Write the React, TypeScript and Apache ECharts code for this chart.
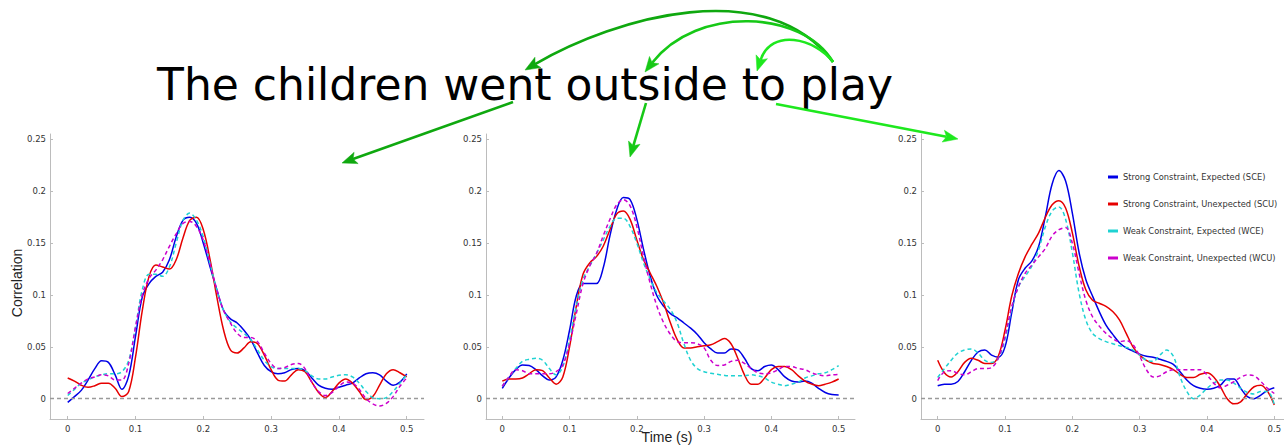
import React, { useEffect, useRef } from "react";
import * as echarts from "echarts";

const TIME = [0, 0.01, 0.02, 0.03, 0.04, 0.05, 0.06, 0.07, 0.08, 0.09, 0.1, 0.11, 0.12, 0.13, 0.14, 0.15, 0.16, 0.17, 0.18, 0.19, 0.2, 0.21, 0.22, 0.23, 0.24, 0.25, 0.26, 0.27, 0.28, 0.29, 0.3, 0.31, 0.32, 0.33, 0.34, 0.35, 0.36, 0.37, 0.38, 0.39, 0.4, 0.41, 0.42, 0.43, 0.44, 0.45, 0.46, 0.47, 0.48, 0.49, 0.5];

const SERIES_NAMES = [
  "Strong Constraint, Expected (SCE)",
  "Strong Constraint, Unexpected (SCU)",
  "Weak Constraint, Expected (WCE)",
  "Weak Constraint, Unexpected (WCU)",
];
const SERIES_COLORS = ["#0000e6", "#e60000", "#1fd2d2", "#cc00cc"];
const SERIES_DASHED = [false, false, true, true];

// Panel 1 ("went")
const P1_SCE = [-0.0035, 0.002, 0.008, 0.018, 0.029, 0.0365, 0.035, 0.023, 0.009, 0.022, 0.06, 0.098, 0.111, 0.118, 0.122, 0.134, 0.156, 0.172, 0.175, 0.169, 0.15, 0.127, 0.105, 0.085, 0.077, 0.073, 0.066, 0.057, 0.044, 0.032, 0.026, 0.024, 0.025, 0.028, 0.029, 0.027, 0.02, 0.013, 0.01, 0.009, 0.011, 0.013, 0.015, 0.02, 0.024, 0.025, 0.023, 0.017, 0.013, 0.016, 0.024];
const P1_SCU = [0.02, 0.017, 0.013, 0.011, 0.0125, 0.015, 0.015, 0.01, 0.002, 0.007, 0.04, 0.085, 0.118, 0.129, 0.127, 0.125, 0.134, 0.155, 0.172, 0.175, 0.163, 0.134, 0.098, 0.066, 0.047, 0.044, 0.049, 0.055, 0.053, 0.042, 0.028, 0.018, 0.017, 0.023, 0.028, 0.026, 0.016, 0.006, 0.001, 0.007, 0.015, 0.019, 0.015, 0.007, -0.001, 0.002, 0.013, 0.024, 0.028, 0.025, 0.021];
const P1_WCE = [0.003, 0.009, 0.015, 0.018, 0.021, 0.023, 0.024, 0.024, 0.026, 0.037, 0.069, 0.105, 0.12, 0.12, 0.118, 0.127, 0.15, 0.172, 0.179, 0.172, 0.156, 0.13, 0.105, 0.085, 0.074, 0.068, 0.063, 0.057, 0.047, 0.037, 0.031, 0.029, 0.029, 0.029, 0.029, 0.027, 0.022, 0.019, 0.019, 0.021, 0.0225, 0.023, 0.021, 0.015, 0.007, 0.001, 0, 0.001, 0.007, 0.015, 0.023];
const P1_WCU = [0.005, 0.01, 0.015, 0.019, 0.021, 0.023, 0.022, 0.018, 0.018, 0.034, 0.069, 0.1, 0.116, 0.124, 0.134, 0.147, 0.159, 0.169, 0.171, 0.166, 0.153, 0.13, 0.105, 0.085, 0.073, 0.063, 0.059, 0.059, 0.055, 0.044, 0.034, 0.029, 0.03, 0.033, 0.034, 0.029, 0.016, 0.007, 0.003, 0.006, 0.012, 0.016, 0.015, 0.009, 0, -0.005, -0.007, -0.0045, 0.002, 0.012, 0.02];

// Panel 2 ("outside")
const P2_SCE = [0.01, 0.02, 0.028, 0.0325, 0.032, 0.028, 0.022, 0.018, 0.021, 0.037, 0.066, 0.099, 0.111, 0.111, 0.111, 0.126, 0.157, 0.182, 0.194, 0.192, 0.173, 0.144, 0.118, 0.099, 0.089, 0.082, 0.078, 0.073, 0.068, 0.062, 0.054, 0.048, 0.044, 0.044, 0.048, 0.047, 0.039, 0.029, 0.027, 0.031, 0.0325, 0.028, 0.021, 0.017, 0.016, 0.017, 0.015, 0.01, 0.006, 0.004, 0.0035];
const P2_SCU = [0.017, 0.019, 0.019, 0.02, 0.024, 0.028, 0.027, 0.02, 0.014, 0.021, 0.05, 0.089, 0.12, 0.131, 0.137, 0.147, 0.163, 0.178, 0.181, 0.173, 0.153, 0.134, 0.121, 0.108, 0.092, 0.073, 0.057, 0.049, 0.049, 0.05, 0.051, 0.052, 0.055, 0.058, 0.053, 0.039, 0.023, 0.014, 0.014, 0.02, 0.028, 0.031, 0.031, 0.028, 0.022, 0.017, 0.014, 0.0125, 0.014, 0.016, 0.019];
const P2_WCE = [0.012, 0.021, 0.029, 0.036, 0.038, 0.039, 0.037, 0.029, 0.023, 0.031, 0.057, 0.089, 0.115, 0.128, 0.14, 0.153, 0.166, 0.174, 0.174, 0.166, 0.15, 0.131, 0.115, 0.102, 0.094, 0.086, 0.073, 0.053, 0.037, 0.029, 0.026, 0.0245, 0.0235, 0.0225, 0.022, 0.022, 0.022, 0.023, 0.022, 0.02, 0.016, 0.014, 0.0125, 0.014, 0.016, 0.02, 0.022, 0.024, 0.025, 0.028, 0.032];
const P2_WCU = [0.012, 0.021, 0.028, 0.027, 0.024, 0.024, 0.024, 0.024, 0.026, 0.0325, 0.053, 0.082, 0.111, 0.128, 0.14, 0.157, 0.173, 0.187, 0.192, 0.186, 0.166, 0.137, 0.111, 0.089, 0.073, 0.062, 0.055, 0.054, 0.054, 0.053, 0.049, 0.037, 0.032, 0.0325, 0.036, 0.037, 0.034, 0.029, 0.025, 0.024, 0.025, 0.028, 0.031, 0.031, 0.029, 0.028, 0.025, 0.023, 0.022, 0.023, 0.0235];

// Panel 3 ("play")
const P3_SCE = [0.0125, 0.014, 0.014, 0.0165, 0.026, 0.037, 0.045, 0.047, 0.042, 0.04, 0.05, 0.083, 0.115, 0.126, 0.133, 0.147, 0.176, 0.207, 0.22, 0.21, 0.179, 0.141, 0.115, 0.099, 0.084, 0.071, 0.062, 0.054, 0.049, 0.046, 0.043, 0.041, 0.04, 0.038, 0.036, 0.033, 0.026, 0.018, 0.0125, 0.01, 0.009, 0.01, 0.013, 0.019, 0.019, 0.01, 0.002, 0, 0.0035, 0.008, 0.0105];
const P3_SCU = [0.037, 0.025, 0.021, 0.026, 0.035, 0.039, 0.037, 0.034, 0.034, 0.041, 0.066, 0.099, 0.121, 0.137, 0.149, 0.16, 0.175, 0.187, 0.191, 0.184, 0.16, 0.128, 0.105, 0.095, 0.092, 0.089, 0.084, 0.076, 0.063, 0.05, 0.042, 0.037, 0.034, 0.033, 0.031, 0.028, 0.0235, 0.0205, 0.0205, 0.0235, 0.025, 0.021, 0.0115, 0, -0.005, -0.003, 0.005, 0.0115, 0.013, 0.007, -0.006];
const P3_WCE = [0.0205, 0.029, 0.037, 0.044, 0.047, 0.048, 0.044, 0.037, 0.035, 0.039, 0.057, 0.087, 0.108, 0.118, 0.128, 0.144, 0.166, 0.181, 0.185, 0.173, 0.141, 0.102, 0.076, 0.063, 0.058, 0.055, 0.053, 0.051, 0.0495, 0.047, 0.042, 0.037, 0.036, 0.042, 0.047, 0.041, 0.021, 0.007, 0, 0.0035, 0.01, 0.015, 0.018, 0.018, 0.015, 0.01, 0.006, 0.0045, 0.007, 0.007, -0.006];
const P3_WCU = [0.0175, 0.026, 0.027, 0.0245, 0.023, 0.026, 0.029, 0.029, 0.03, 0.039, 0.06, 0.089, 0.108, 0.121, 0.129, 0.137, 0.145, 0.157, 0.163, 0.165, 0.15, 0.121, 0.095, 0.079, 0.07, 0.063, 0.058, 0.055, 0.056, 0.052, 0.041, 0.028, 0.021, 0.022, 0.026, 0.028, 0.028, 0.028, 0.028, 0.028, 0.023, 0.015, 0.0105, 0.013, 0.0165, 0.0205, 0.023, 0.022, 0.0165, 0.01, 0.005];

const PANELS = [
  [P1_SCE, P1_SCU, P1_WCE, P1_WCU],
  [P2_SCE, P2_SCU, P2_WCE, P2_WCU],
  [P3_SCE, P3_SCU, P3_WCE, P3_WCU],
];

const X_TICKS = [0, 0.1, 0.2, 0.3, 0.4, 0.5];
const Y_TICKS = [0, 0.05, 0.1, 0.15, 0.2, 0.25];

const TITLE = "The children went outside to play";
const Y_NAME = "Correlation";
const X_NAME = "Time (s)";

// layout
const GRIDS = [
  { left: 50, top: 134, width: 374, height: 285, xMin: -0.0261, xMax: 0.5255 },
  { left: 486, top: 134, width: 369, height: 285, xMin: -0.0242, xMax: 0.5243 },
  { left: 921, top: 134, width: 363, height: 285, xMin: -0.0248, xMax: 0.5144 },
];
const Y_MIN = -0.0196;
const Y_MAX = 0.2553;

const GREEN_DARK = "#0fa80f";
const GREEN_MID = "#16c816";
const GREEN_LIGHT = "#1ee81e";

function arrowHead(tip: number[], dir: number[], color: string) {
  const len = Math.hypot(dir[0], dir[1]);
  const d = [dir[0] / len, dir[1] / len];
  const n = [-d[1], d[0]];
  const L = 15;
  const W = 6;
  const base = [tip[0] - L * d[0], tip[1] - L * d[1]];
  const notch = [tip[0] - 0.78 * L * d[0], tip[1] - 0.78 * L * d[1]];
  return {
    type: "polygon",
    shape: {
      points: [
        tip,
        [base[0] + W * n[0], base[1] + W * n[1]],
        notch,
        [base[0] - W * n[0], base[1] - W * n[1]],
      ],
    },
    style: { fill: color, stroke: color, lineWidth: 0.5 },
    z: 100,
  };
}

function notchPoint(tip: number[], dir: number[]) {
  const len = Math.hypot(dir[0], dir[1]);
  return [tip[0] - 0.78 * 15 * dir[0] / len, tip[1] - 0.78 * 15 * dir[1] / len];
}

function curveArrow(start: number[], c1: number[], c2: number[], tip: number[], dir: number[], color: string) {
  const end = notchPoint(tip, dir);
  return [
    {
      type: "bezierCurve",
      shape: { x1: start[0], y1: start[1], cpx1: c1[0], cpy1: c1[1], cpx2: c2[0], cpy2: c2[1], x2: end[0], y2: end[1] },
      style: { stroke: color, lineWidth: 2.6, fill: null },
      z: 100,
    },
    arrowHead(tip, dir, color),
  ];
}

function straightArrow(start: number[], tip: number[], color: string) {
  const dir = [tip[0] - start[0], tip[1] - start[1]];
  const end = notchPoint(tip, dir);
  return [
    {
      type: "line",
      shape: { x1: start[0], y1: start[1], x2: end[0], y2: end[1] },
      style: { stroke: color, lineWidth: 2.6 },
      z: 100,
    },
    arrowHead(tip, dir, color),
  ];
}

export default function App() {
  const ref = useRef<HTMLDivElement>(null);

  useEffect(() => {
    document.body.style.margin = "0";
    if (!ref.current) return;
    const chart = echarts.init(ref.current, null, { renderer: "svg" });

    const fmt = (v: number) => String(Math.round(v * 1000) / 1000);
    const axisColor = "#bcbcbc";
    const labelStyle = { color: "#333", fontSize: 8.5, fontFamily: "DejaVu Sans" };

    const grids = GRIDS.map((g) => ({
      left: g.left,
      top: g.top,
      width: g.width,
      height: g.height,
      containLabel: false,
      outerBoundsMode: "none",
    }));
    const xAxes = GRIDS.map((g, i) => ({
      type: "value",
      gridIndex: i,
      min: g.xMin,
      max: g.xMax,
      axisLine: { show: true, onZero: false, lineStyle: { color: axisColor, width: 1 } },
      axisTick: { show: true, inside: true, length: 3, customValues: X_TICKS, lineStyle: { color: axisColor } },
      axisLabel: { ...labelStyle, margin: 5, customValues: X_TICKS, formatter: fmt },
      splitLine: { show: false },
    }));
    const yAxes = GRIDS.map((g, i) => ({
      type: "value",
      gridIndex: i,
      min: Y_MIN,
      max: Y_MAX,
      axisLine: { show: true, onZero: false, lineStyle: { color: axisColor, width: 1 } },
      axisTick: { show: true, inside: true, length: 3, customValues: Y_TICKS, lineStyle: { color: axisColor } },
      axisLabel: { ...labelStyle, margin: 4, customValues: Y_TICKS, formatter: fmt },
      splitLine: { show: false },
    }));

    const series: any[] = [];
    PANELS.forEach((panel, p) => {
      panel.forEach((vals, s) => {
        const item: any = {
          name: SERIES_NAMES[s],
          type: "line",
          xAxisIndex: p,
          yAxisIndex: p,
          data: TIME.map((t, i) => [t, vals[i]]),
          smooth: 0.35,
          symbol: "none",
          showSymbol: false,
          color: SERIES_COLORS[s],
          itemStyle: { color: SERIES_COLORS[s] },
          lineStyle: { color: SERIES_COLORS[s], width: 1.5, type: SERIES_DASHED[s] ? [4, 3] : "solid" },
          z: 3 + s,
        };
        if (s === 0) {
          item.markLine = {
            silent: true,
            symbol: ["none", "none"],
            label: { show: false },
            lineStyle: { color: "#9a9a9a", type: [4, 3], width: 1.3 },
            data: [{ yAxis: 0 }],
          };
        }
        series.push(item);
      });
    });

    const graphics: any[] = [
      {
        type: "text",
        x: 157,
        y: 84,
        style: { text: TITLE, fontSize: 44, fontFamily: "DejaVu Sans", fill: "#000", align: "left", verticalAlign: "middle" },
      },
      {
        type: "text",
        x: 17,
        y: 283,
        rotation: Math.PI / 2,
        style: { text: Y_NAME, fontSize: 14, fontFamily: "Liberation Sans", fill: "#222", align: "center", verticalAlign: "middle" },
      },
      {
        type: "text",
        x: 667,
        y: 437,
        style: { text: X_NAME, fontSize: 14, fontFamily: "Liberation Sans", fill: "#222", align: "center", verticalAlign: "middle" },
      },
      ...curveArrow([833, 62], [767, -26], [616, 17], [525, 70], [-60, 35], GREEN_DARK),
      ...curveArrow([833, 62], [803, 10], [697, 5], [645, 72], [-35, 45], GREEN_MID),
      ...curveArrow([833, 62], [815, 38], [771, 28], [757, 71], [-15, 45], GREEN_LIGHT),
      ...straightArrow([513, 102], [342, 163], GREEN_DARK),
      ...straightArrow([646, 103], [630, 157], GREEN_MID),
      ...straightArrow([776, 104], [958, 139], GREEN_LIGHT),
    ];

    chart.setOption({
      animation: false,
      backgroundColor: "#fff",
      grid: grids,
      xAxis: xAxes,
      yAxis: yAxes,
      legend: {
        data: SERIES_NAMES,
        orient: "vertical",
        left: 1103,
        top: 168,
        itemWidth: 10,
        itemHeight: 3,
        itemGap: 19,
        icon: "rect",
        selectedMode: false,
        textStyle: { fontSize: 8.3, fontFamily: "DejaVu Sans", color: "#333" },
      },
      series,
      graphic: graphics,
    });

    return () => chart.dispose();
  }, []);

  return <div ref={ref} style={{ width: 1284, height: 446 }} />;
}
